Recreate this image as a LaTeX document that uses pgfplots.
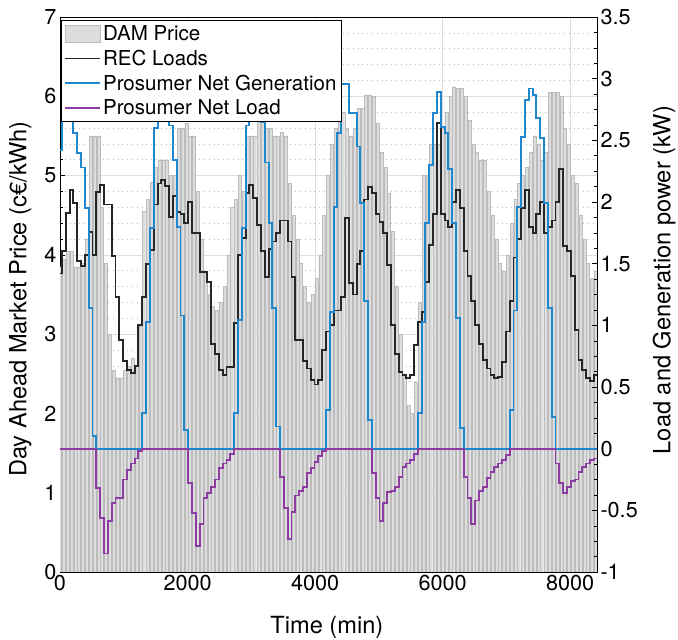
\documentclass[border=0pt]{standalone}
\usepackage{pgfplots}
\pgfplotsset{compat=1.18}
\usepackage{pgfplotstable}
\usepackage{fontspec}
\setmainfont{TeX Gyre Heros}

\definecolor{mblue}{RGB}{30,135,205}
\definecolor{mpurple}{RGB}{140,60,160}
\definecolor{barfill}{RGB}{221,221,221}
\definecolor{baredge}{RGB}{188,188,188}
\definecolor{gridc}{RGB}{222,222,222}
\definecolor{mgridc}{RGB}{185,185,185}

% DAM price (c EUR/kWh), hourly bars, k = hour index
\pgfplotstableread[row sep=\\]{
k v\\
0 3.85\\ 1 3.95\\ 2 4.05\\ 3 4.05\\ 4 3.85\\ 5 3.85\\ 6 3.9\\ 7 4.2\\ 8 5.5\\ 9 5.5\\
10 5.5\\ 11 4.6\\ 12 3.9\\ 13 3.0\\ 14 2.55\\ 15 2.45\\ 16 2.45\\ 17 2.55\\ 18 2.6\\ 19 2.7\\
20 2.6\\ 21 3.1\\ 22 4.55\\ 23 4.7\\ 24 4.92\\ 25 5.1\\ 26 5.2\\ 27 5.2\\ 28 5.2\\ 29 5.0\\
30 5.0\\ 31 5.6\\ 32 5.6\\ 33 5.66\\ 34 5.5\\ 35 5.5\\ 36 4.8\\ 37 4.2\\ 38 3.8\\ 39 3.5\\
40 3.35\\ 41 3.3\\ 42 3.4\\ 43 3.6\\ 44 4.0\\ 45 4.6\\ 46 4.7\\ 47 5.0\\ 48 4.8\\ 49 5.5\\
50 5.5\\ 51 5.5\\ 52 5.7\\ 53 5.8\\ 54 5.6\\ 55 5.6\\ 56 5.5\\ 57 5.5\\ 58 5.55\\ 59 5.5\\
60 4.9\\ 61 4.5\\ 62 4.2\\ 63 3.9\\ 64 3.6\\ 65 3.4\\ 66 3.5\\ 67 3.7\\ 68 4.0\\ 69 4.5\\
70 5.0\\ 71 5.4\\ 72 5.6\\ 73 5.8\\ 74 5.8\\ 75 5.6\\ 76 5.5\\ 77 5.6\\ 78 5.85\\ 79 5.85\\
80 6.02\\ 81 6.02\\ 82 6.0\\ 83 5.66\\ 84 5.3\\ 85 5.1\\ 86 4.78\\ 87 4.3\\ 88 3.6\\ 89 3.0\\
90 2.5\\ 91 2.1\\ 92 2.0\\ 93 2.4\\ 94 3.4\\ 95 5.0\\ 96 5.0\\ 97 5.4\\ 98 5.4\\ 99 5.4\\
100 5.6\\ 101 5.8\\ 102 6.0\\ 103 6.12\\ 104 6.1\\ 105 6.1\\ 106 6.0\\ 107 5.7\\ 108 5.4\\ 109 5.3\\
110 5.2\\ 111 5.2\\ 112 4.8\\ 113 4.5\\ 114 4.2\\ 115 3.9\\ 116 3.8\\ 117 4.0\\ 118 4.4\\ 119 4.7\\
120 4.9\\ 121 5.0\\ 122 5.1\\ 123 5.3\\ 124 5.5\\ 125 5.4\\ 126 5.2\\ 127 5.3\\ 128 6.05\\ 129 6.05\\
130 6.05\\ 131 6.0\\ 132 5.6\\ 133 5.4\\ 134 5.0\\ 135 4.9\\ 136 4.5\\ 137 4.2\\ 138 3.9\\ 139 3.7\\
140 3.8\\
}\damprice

% REC loads (kW), hourly steps
\pgfplotstableread[row sep=\\]{
j v\\
0 1.42\\ 1 1.60\\ 2 1.91\\ 3 2.10\\ 4 1.99\\ 5 1.52\\ 6 1.48\\ 7 1.57\\ 8 1.76\\ 9 1.57\\
10 2.08\\ 11 2.14\\ 12 1.98\\ 13 1.98\\ 14 1.56\\ 15 1.23\\ 16 0.88\\ 17 0.71\\ 18 0.64\\ 19 0.61\\
20 0.67\\ 21 1.00\\ 22 1.23\\ 23 1.50\\ 24 1.61\\ 25 1.98\\ 26 2.15\\ 27 2.18\\ 28 2.13\\ 29 1.88\\
30 2.05\\ 31 1.92\\ 32 1.90\\ 33 1.83\\ 34 2.00\\ 35 1.75\\ 36 1.75\\ 37 1.43\\ 38 1.43\\ 39 1.35\\
40 0.85\\ 41 0.77\\ 42 0.64\\ 43 0.60\\ 44 0.66\\ 45 0.66\\ 46 1.02\\ 47 1.57\\ 48 1.71\\ 49 2.07\\
50 2.14\\ 51 2.03\\ 52 1.81\\ 53 1.60\\ 54 1.39\\ 55 1.62\\ 56 1.68\\ 57 1.75\\ 58 1.85\\ 59 1.85\\
60 1.68\\ 61 1.39\\ 62 0.88\\ 63 0.88\\ 64 0.71\\ 65 0.65\\ 66 0.56\\ 67 0.52\\ 68 0.56\\ 69 0.80\\
70 0.95\\ 71 1.00\\ 72 1.12\\ 73 1.12\\ 74 1.23\\ 75 1.87\\ 76 1.34\\ 77 1.25\\ 78 1.50\\ 79 1.60\\
80 2.02\\ 81 2.12\\ 82 2.07\\ 83 1.90\\ 84 1.84\\ 85 1.75\\ 86 1.49\\ 87 1.00\\ 88 0.77\\ 89 0.62\\
90 0.60\\ 91 0.57\\ 92 0.60\\ 93 0.84\\ 94 1.03\\ 95 1.11\\ 96 1.35\\ 97 1.65\\ 98 1.90\\ 99 2.64\\
100 1.90\\ 101 1.85\\ 102 1.80\\ 103 2.00\\ 104 2.10\\ 105 1.95\\ 106 1.60\\ 107 1.40\\ 108 1.20\\ 109 1.00\\
110 0.85\\ 111 0.72\\ 112 0.65\\ 113 0.60\\ 114 0.57\\ 115 0.58\\ 116 0.70\\ 117 0.95\\ 118 1.20\\ 119 1.55\\
120 1.70\\ 121 1.95\\ 122 2.10\\ 123 1.80\\ 124 1.75\\ 125 1.90\\ 126 2.00\\ 127 1.75\\ 128 1.80\\ 129 1.85\\
130 2.00\\ 131 2.27\\ 132 1.64\\ 133 1.60\\ 134 1.40\\ 135 0.96\\ 136 0.72\\ 137 0.64\\ 138 0.57\\ 139 0.55\\
140 0.60\\ 140.84 0.60\\
}\recload

% Prosumer net generation (kW)
\pgfplotstableread[row sep=\\]{
j v\\
0 2.42\\ 1 2.80\\ 2 2.85\\ 3 2.70\\ 4 2.56\\ 5 2.40\\ 6 2.28\\ 7 1.95\\ 8 1.14\\ 9 0.10\\
10 0\\ 21 0\\
22 0.29\\ 23 1.03\\ 24 1.79\\ 25 2.60\\ 26 2.85\\ 27 2.90\\ 28 2.80\\ 29 2.62\\ 30 2.34\\ 31 1.80\\ 32 1.08\\ 33 0.15\\
34 0\\ 45 0\\
46 0.29\\ 47 1.04\\ 48 1.79\\ 49 2.62\\ 50 2.85\\ 51 2.90\\ 52 2.80\\ 53 2.65\\ 54 2.32\\ 55 1.83\\ 56 1.14\\ 57 0.18\\
58 0\\ 69 0\\
70 0.31\\ 71 1.11\\ 72 1.96\\ 73 2.56\\ 74 2.96\\ 75 2.96\\ 76 2.72\\ 77 2.72\\ 78 2.45\\ 79 1.99\\ 80 1.20\\ 81 0.23\\
82 0\\ 93 0\\
94 0.29\\ 95 1.03\\ 96 1.83\\ 97 2.30\\ 98 2.72\\ 99 2.89\\ 100 2.61\\ 101 2.56\\ 102 2.27\\ 103 1.83\\ 104 1.06\\ 105 0.17\\
106 0\\ 117 0\\
118 0.31\\ 119 1.12\\ 120 1.96\\ 121 2.53\\ 122 2.83\\ 123 2.92\\ 124 2.87\\ 125 2.68\\ 126 2.52\\ 127 1.99\\ 128 1.14\\ 129 0.26\\
130 0\\ 140.84 0\\
}\netgen

% Prosumer net load (kW)
\pgfplotstableread[row sep=\\]{
j v\\
0 0\\ 9 0\\
10 -0.32\\ 11 -0.56\\ 12 -0.85\\ 13 -0.59\\ 14 -0.44\\ 15 -0.40\\ 16 -0.40\\ 17 -0.25\\ 18 -0.17\\ 19 -0.12\\ 20 -0.08\\ 21 -0.02\\
22 0\\ 33 0\\
34 -0.28\\ 35 -0.52\\ 36 -0.79\\ 37 -0.61\\ 38 -0.40\\ 39 -0.36\\ 40 -0.31\\ 41 -0.25\\ 42 -0.16\\ 43 -0.12\\ 44 -0.09\\ 45 -0.04\\
46 0\\ 57 0\\
58 -0.23\\ 59 -0.48\\ 60 -0.73\\ 61 -0.51\\ 62 -0.38\\ 63 -0.34\\ 64 -0.31\\ 65 -0.20\\ 66 -0.16\\ 67 -0.11\\ 68 -0.06\\ 69 -0.02\\
70 0\\ 81 0\\
82 -0.20\\ 83 -0.40\\ 84 -0.59\\ 85 -0.44\\ 86 -0.35\\ 87 -0.34\\ 88 -0.31\\ 89 -0.23\\ 90 -0.15\\ 91 -0.12\\ 92 -0.09\\ 93 -0.04\\
94 0\\ 105 0\\
106 -0.23\\ 107 -0.40\\ 108 -0.61\\ 109 -0.42\\ 110 -0.34\\ 111 -0.31\\ 112 -0.24\\ 113 -0.19\\ 114 -0.15\\ 115 -0.12\\ 116 -0.09\\ 117 -0.05\\
118 0\\ 129 0\\
130 -0.12\\ 131 -0.28\\ 132 -0.36\\ 133 -0.31\\ 134 -0.26\\ 135 -0.25\\ 136 -0.19\\ 137 -0.15\\ 138 -0.12\\ 139 -0.09\\ 140 -0.08\\ 140.84 -0.08\\
}\netload

\pgfplotsset{
  common/.style={
    scale only axis, width=537bp, height=555bp,
    xmin=0, xmax=8420,
    tick align=inside,
    major tick length=5bp, minor tick length=3bp,
    every tick/.style={black, line width=0.5bp},
    axis line style={black, line width=0.6bp},
    ticklabel style={font=\fontsize{21.7}{24}\selectfont},
    label style={font=\fontsize{23.7}{26}\selectfont},
    /pgf/number format/assume math mode=true,
    /pgf/number format/1000 sep={},
    scaled ticks=false,
  },
}

\begin{document}
\begin{tikzpicture}
\useasboundingbox (-60bp,-68bp) rectangle (618bp,572bp);
\begin{axis}[
  common,
  ymin=0, ymax=7,
  xtick={0,2000,4000,6000,8000},
  ytick={0,1,2,3,4,5,6,7},
  minor y tick num=4,
  xtick pos=bottom, ytick pos=left,
  xmajorgrids, ymajorgrids, yminorgrids,
  major grid style={gridc, line width=0.6bp},
  minor grid style={mgridc, line width=0.6bp, dash pattern=on 0.8bp off 4bp},
  xlabel={Time (min)},
  ylabel={Day Ahead Market Price (c€/kWh)},
  xlabel style={at={(axis description cs:0.497,-0.099)}, anchor=center},
  ylabel style={at={(axis description cs:-0.074,0.492)}, anchor=center},
]
\addplot[ybar, bar width=48, fill=barfill, draw=baredge, line width=0.35bp]
  table[x expr=60*\thisrow{k}, y=v] {\damprice};
\end{axis}
\begin{axis}[
  common,
  ymin=-1, ymax=3.5,
  axis y line*=right, axis x line=none,
  ytick={-1,-0.5,0,0.5,1,1.5,2,2.5,3,3.5},
  minor y tick num=3,
  ylabel={Load and Generation power (kW)},
  ylabel style={at={(axis description cs:1.1248,0.526)}, anchor=center},
  legend style={at={(axis description cs:0.002,0.995)}, anchor=north west,
    draw=black, line width=0.6bp, fill=white,
    font=\fontsize{20.6}{22}\selectfont,
    nodes={inner sep=1.8bp}, row sep=4.2bp, inner xsep=3bp, inner ysep=4bp,
    cells={anchor=west}},
  legend image code/.code={\draw[#1, line width=1.9bp] (0bp,0bp) -- (35bp,0bp);},
]
\addlegendimage{legend image code/.code={\draw[fill=barfill, draw=baredge, line width=0.6bp] (0bp,-8bp) rectangle (35bp,9bp);}}
\addlegendentry{DAM Price}
\addplot[const plot, black!85, line width=1.9bp] table[x expr=60*\thisrow{j}-30, y=v] {\recload};
\addlegendentry{REC Loads}
\addplot[const plot, mblue, line width=1.9bp] table[x expr=60*\thisrow{j}-30, y=v] {\netgen};
\addlegendentry{Prosumer Net Generation}
\addplot[const plot, mpurple, line width=1.9bp] table[x expr=60*\thisrow{j}-30, y=v] {\netload};
\addlegendentry{Prosumer Net Load}
\end{axis}
\end{tikzpicture}
\end{document}
